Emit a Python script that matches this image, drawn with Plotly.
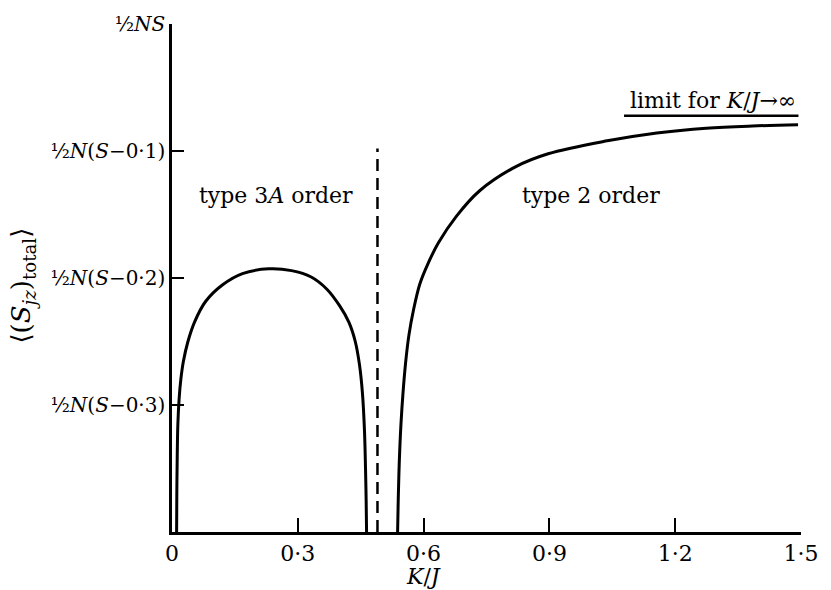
import plotly.graph_objects as go

# ---- data ----
# type 3A order branch (K/J, <S_jz> offset in units of 1/2 N(S - value))
left_x = [0.011, 0.0115, 0.0125, 0.014, 0.017, 0.021, 0.027, 0.038, 0.054, 0.080, 0.120, 0.168,
          0.231, 0.285, 0.332, 0.370, 0.400, 0.422, 0.437, 0.447, 0.454, 0.459, 0.4615, 0.463, 0.464]
left_y = [-0.400, -0.370, -0.340, -0.315, -0.295, -0.280, -0.266, -0.250, -0.2345, -0.2185, -0.2055, -0.1965,
          -0.1928, -0.1942, -0.1992, -0.2090, -0.2220, -0.2350, -0.2500, -0.2680, -0.2900, -0.3200, -0.3500,
          -0.3750, -0.400]

# type 2 order branch
right_x = [0.538, 0.5395, 0.542, 0.546, 0.551, 0.557, 0.565, 0.576, 0.591, 0.610, 0.635, 0.678,
           0.733, 0.819, 0.897, 1.038, 1.156, 1.274, 1.384, 1.493]
right_y = [-0.400, -0.375, -0.345, -0.315, -0.290, -0.267, -0.245, -0.2250, -0.2047, -0.1890, -0.1725, -0.1515,
           -0.1315, -0.1125, -0.1022, -0.0920, -0.0858, -0.0820, -0.0803, -0.0794]

# phase boundary (dashed) and K/J -> infinity limit
boundary_kj = 0.49
boundary_y = [-0.400, -0.098]
limit_value = -0.0723
limit_x = [1.078, 1.494]

x_tickvals = [0, 0.3, 0.6, 0.9, 1.2, 1.5]
x_ticktext = ["0", "0·3", "0·6", "0·9", "1·2", "1·5"]
y_tickvals = [0, -0.1, -0.2, -0.3]
y_ticktext = ["½<i>NS</i>", "½<i>N</i>(<i>S</i>−0·1)", "½<i>N</i>(<i>S</i>−0·2)", "½<i>N</i>(<i>S</i>−0·3)"]

FONT = "DejaVu Serif"

fig = go.Figure()
fig.add_trace(go.Scatter(x=left_x, y=left_y, mode="lines",
                         line=dict(color="black", width=3, shape="spline", smoothing=1.0),
                         hoverinfo="skip"))
fig.add_trace(go.Scatter(x=right_x, y=right_y, mode="lines",
                         line=dict(color="black", width=3, shape="spline", smoothing=1.0),
                         hoverinfo="skip"))
fig.add_trace(go.Scatter(x=[boundary_kj, boundary_kj], y=boundary_y, mode="lines",
                         line=dict(color="black", width=2.5, dash="12px,7px"),
                         hoverinfo="skip"))
fig.add_trace(go.Scatter(x=limit_x, y=[limit_value, limit_value], mode="lines",
                         line=dict(color="black", width=2.5),
                         hoverinfo="skip"))

axis_common = dict(showline=True, linecolor="black", linewidth=2.5,
                   ticks="inside", tickcolor="black", tickwidth=1.5,
                   showgrid=False, zeroline=False, mirror=False)

fig.update_xaxes(range=[0, 1.5], tickvals=x_tickvals, ticktext=x_ticktext,
                 ticklen=14, tickfont=dict(family=FONT, size=22, color="black"),
                 **axis_common)
fig.update_yaxes(range=[-0.4, 0], tickvals=y_tickvals, ticktext=y_ticktext,
                 ticklen=12, tickfont=dict(family=FONT, size=20, color="black"),
                 **axis_common)

txt = dict(family=FONT, size=22, color="black")
fig.add_annotation(x=0.247, y=-0.135, xref="x", yref="y", text="type 3<i>A</i> order",
                   showarrow=False, font=txt)
fig.add_annotation(x=1.0, y=-0.135, xref="x", yref="y", text="type 2 order",
                   showarrow=False, font=txt)
fig.add_annotation(x=1.289, y=-0.060, xref="x", yref="y", text="limit for <i>K</i>/<i>J</i>→∞",
                   showarrow=False, font=txt)
fig.add_annotation(x=0.6, y=-0.088, xref="x", yref="paper", text="<i>K</i>/<i>J</i>",
                   xanchor="center", yanchor="middle",
                   showarrow=False, font=txt)
fig.add_annotation(x=-0.237, y=0.485, xref="paper", yref="paper",
                   text="⟨(<i>S</i><sub><i>jz</i></sub>)<sub>total</sub>⟩",
                   xanchor="center", yanchor="middle",
                   textangle=-90, showarrow=False,
                   font=dict(family=FONT, size=26, color="black"))

fig.update_layout(width=831, height=590,
                  margin=dict(l=172, r=21, t=23, b=58),
                  paper_bgcolor="white", plot_bgcolor="white",
                  showlegend=False)

fig.write_html("out.html")
